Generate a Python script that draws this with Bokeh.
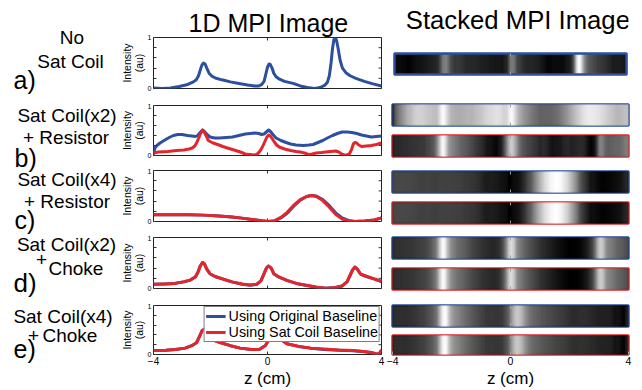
import numpy as np
from bokeh.plotting import figure
from bokeh.models import (Range1d, LinearAxis, FixedTicker, ColumnDataSource,
                          LinearColorMapper, Legend, LegendItem)
from bokeh.layouts import column, row
from bokeh.palettes import Greys256
from bokeh.transform import transform
from bokeh.core.properties import value
from bokeh.embed import file_html
from bokeh.resources import INLINE

# ---------------- data ----------------
Z_A = [-4.0, -3.7, -3.4, -3.1, -2.8, -2.6, -2.5, -2.42, -2.35, -2.3,
       -2.25, -2.19, -2.13, -2.05, -1.95, -1.8, -1.6, -1.3, -1.0, -0.7,
       -0.45, -0.3, -0.2, -0.12, -0.05, 0.0, 0.05, 0.1, 0.16, 0.22,
       0.3, 0.4, 0.6, 0.9, 1.15, 1.4, 1.65, 1.85, 2.0, 2.1,
       2.17, 2.23, 2.28, 2.33, 2.37, 2.42, 2.48, 2.55, 2.63, 2.75,
       2.9, 3.1, 3.4, 3.7, 4.0]
A_BLUE = [0.01, 0.0, 0.01, 0.04, 0.08, 0.13, 0.17, 0.25, 0.38, 0.46,
          0.50, 0.48, 0.40, 0.30, 0.24, 0.20, 0.17, 0.13, 0.10, 0.07,
          0.05, 0.05, 0.08, 0.14, 0.30, 0.42, 0.48, 0.47, 0.40, 0.30,
          0.23, 0.19, 0.14, 0.10, 0.05, 0.02, 0.0, 0.02, 0.06, 0.12,
          0.25, 0.50, 0.78, 0.96, 1.0, 0.95, 0.78, 0.55, 0.40, 0.31,
          0.25, 0.20, 0.14, 0.09, 0.05]

Z_B_BLUE = [-4.0, -3.95, -3.88, -3.77, -3.6, -3.45, -3.3, -3.15, -3.0, -2.81,
            -2.65, -2.53, -2.45, -2.38, -2.28, -2.2, -2.1, -2.02, -1.85, -1.68,
            -1.45, -1.23, -1.0, -0.78, -0.6, -0.44, -0.3, -0.21, -0.12, -0.04,
            0.04, 0.12, 0.19, 0.3, 0.47, 0.65, 0.81, 1.0, 1.26, 1.45,
            1.6, 1.77, 1.94, 2.1, 2.28, 2.45, 2.62, 2.8, 2.96, 3.13,
            3.3, 3.47, 3.64, 3.82, 4.0]
B_BLUE = [0.02, 0.15, 0.20, 0.25, 0.31, 0.36, 0.40, 0.42, 0.42, 0.40,
          0.39, 0.38, 0.40, 0.45, 0.51, 0.47, 0.41, 0.37, 0.35, 0.35,
          0.36, 0.37, 0.40, 0.43, 0.44, 0.45, 0.44, 0.42, 0.43, 0.47,
          0.51, 0.47, 0.42, 0.35, 0.30, 0.26, 0.23, 0.21, 0.20, 0.21,
          0.22, 0.26, 0.30, 0.35, 0.40, 0.44, 0.47, 0.47, 0.46, 0.44,
          0.41, 0.39, 0.37, 0.38, 0.39]

Z_B_RED = [-4.0, -3.83, -3.5, -3.2, -2.93, -2.75, -2.64, -2.55, -2.47, -2.4,
           -2.33, -2.28, -2.22, -2.15, -2.08, -1.98, -1.91, -1.75, -1.57, -1.35,
           -1.12, -0.95, -0.78, -0.62, -0.49, -0.38, -0.32, -0.25, -0.18, -0.1,
           -0.03, 0.04, 0.1, 0.16, 0.24, 0.32, 0.41, 0.6, 0.81, 1.0,
           1.15, 1.3, 1.43, 1.57, 1.71, 1.9, 2.05, 2.22, 2.39, 2.5,
           2.6, 2.73, 2.87, 2.95, 3.01, 3.07, 3.13, 3.2, 3.3, 3.47,
           3.64, 3.82, 4.0]
B_RED = [0.05, 0.07, 0.08, 0.10, 0.11, 0.13, 0.15, 0.19, 0.27, 0.37,
         0.46, 0.51, 0.47, 0.39, 0.30, 0.27, 0.25, 0.22, 0.18, 0.14,
         0.10, 0.07, 0.03, 0.02, 0.01, 0.02, 0.05, 0.10, 0.17, 0.27,
         0.36, 0.41, 0.39, 0.34, 0.27, 0.21, 0.17, 0.13, 0.10, 0.08,
         0.07, 0.05, 0.02, 0.03, 0.05, 0.06, 0.07, 0.08, 0.09, 0.07,
         0.03, 0.0, 0.03, 0.12, 0.23, 0.26, 0.25, 0.21, 0.18, 0.19,
         0.20, 0.22, 0.25]

Z_C = [-4.0, -3.4, -2.8, -2.25, -1.7, -1.25, -0.9, -0.55, -0.2, 0.02,
       0.24, 0.47, 0.69, 0.92, 1.15, 1.37, 1.54, 1.71, 1.94, 2.17,
       2.39, 2.62, 2.84, 3.07, 3.41, 3.75, 4.0]
C_BLUE = [0.13, 0.13, 0.13, 0.125, 0.11, 0.09, 0.066, 0.04, 0.013, 0.0,
          0.01, 0.07, 0.16, 0.30, 0.42, 0.49, 0.51, 0.50, 0.43, 0.31,
          0.17, 0.07, 0.02, 0.0, 0.01, 0.03, 0.07]
C_RED = [0.13, 0.13, 0.13, 0.125, 0.11, 0.09, 0.066, 0.04, 0.013, 0.0,
         0.013, 0.08, 0.18, 0.32, 0.43, 0.49, 0.51, 0.49, 0.41, 0.28,
         0.14, 0.05, 0.01, 0.0, 0.01, 0.03, 0.07]

Z_D = [-4.0, -3.6, -3.26, -2.93, -2.7, -2.53, -2.44, -2.36, -2.28, -2.21,
       -2.13, -2.02, -1.85, -1.57, -1.23, -0.89, -0.61, -0.38, -0.23, -0.12,
       -0.03, 0.04, 0.13, 0.22, 0.36, 0.69, 1.03, 1.37, 1.71, 2.05,
       2.39, 2.62, 2.79, 2.9, 2.99, 3.07, 3.15, 3.27, 3.47, 3.75, 4.0]
D_BLUE = [0.083, 0.09, 0.10, 0.13, 0.165, 0.225, 0.32, 0.44, 0.51, 0.48,
          0.38, 0.29, 0.235, 0.185, 0.125, 0.085, 0.065, 0.08, 0.15, 0.29,
          0.41, 0.44, 0.40, 0.29, 0.235, 0.155, 0.095, 0.06, 0.025, 0.004,
          0.02, 0.05, 0.13, 0.26, 0.37, 0.42, 0.38, 0.28, 0.235, 0.185, 0.135]
D_RED = [0.083, 0.09, 0.10, 0.135, 0.17, 0.23, 0.32, 0.44, 0.51, 0.48,
         0.38, 0.29, 0.24, 0.19, 0.13, 0.09, 0.07, 0.083, 0.15, 0.29,
         0.41, 0.44, 0.40, 0.29, 0.24, 0.16, 0.10, 0.064, 0.03, 0.006,
         0.02, 0.05, 0.13, 0.26, 0.37, 0.42, 0.38, 0.28, 0.24, 0.19, 0.14]

Z_E = [-4.0, -3.57, -3.23, -2.89, -2.66, -2.49, -2.38, -2.29, -2.21, -2.13,
       -2.04, -1.93, -1.64, -1.30, -0.96, -0.57, -0.28, -0.08, 0.06, 0.17,
       0.26, 0.37, 0.51, 0.68, 1.08, 1.53, 1.98, 2.5, 3.0, 3.4,
       3.65, 3.85, 3.93, 4.0]
E_BLUE = [0.08, 0.085, 0.10, 0.13, 0.18, 0.24, 0.375, 0.49, 0.52, 0.47,
          0.36, 0.30, 0.24, 0.18, 0.13, 0.10, 0.105, 0.18, 0.31, 0.39,
          0.41, 0.375, 0.29, 0.22, 0.165, 0.125, 0.10, 0.085, 0.075, 0.055,
          0.035, 0.005, 0.03, 0.09]
E_RED = [0.08, 0.085, 0.10, 0.13, 0.18, 0.24, 0.375, 0.49, 0.52, 0.47,
         0.36, 0.30, 0.24, 0.18, 0.13, 0.10, 0.105, 0.18, 0.31, 0.39,
         0.41, 0.375, 0.29, 0.22, 0.17, 0.13, 0.11, 0.09, 0.08, 0.06,
         0.04, 0.005, 0.03, 0.09]

X_TICKS = [-4, 0, 4]
Y_TICKS = [0, 1]
Y_MINOR = [0.2, 0.4, 0.6, 0.8]
STRIP_TICKS = [0]
TITLE_LEFT = "1D MPI Image"
TITLE_RIGHT = "Stacked MPI Image"
X_LABEL = "z (cm)"
Y_LABEL = "Intensity\n(au)"
LEGEND_LABELS = ["Using Original Baseline", "Using Sat Coil Baseline"]
ROW_LABELS = [
    # text, x (px), baseline y (px), size (px), align
    ("No", 71.5, 43, 19, "center"),
    ("Sat Coil", 70, 67, 19, "center"),
    ("a)", 13, 88, 25, "left"),
    ("Sat Coil(x2)", 66.5, 121, 19, "center"),
    ("+ Resistor", 65.5, 143, 19, "center"),
    ("b)", 14, 166, 25, "left"),
    ("Sat Coil(x4)", 66.5, 185.5, 19, "center"),
    ("+ Resistor", 66.5, 207.5, 19, "center"),
    ("c)", 14, 228, 25, "left"),
    ("Sat Coil(x2)", 66, 250, 19, "center"),
    ("+", 41, 265.5, 19, "center"),
    ("Choke", 48, 274, 19, "left"),
    ("d)", 13, 291, 26, "left"),
    ("Sat Coil(x4)", 62.5, 322, 19, "center"),
    ("+", 33, 341, 19, "center"),
    ("Choke", 42, 341.5, 19, "left"),
    ("e)", 13, 357, 25, "left"),
]

# ---------------- style ----------------
BLUE = "#2c4f9f"
RED = "#e3262b"
FONT = "Liberation Sans"
AXC = "#333333"
PAGE_H = 390
LEFT_W = 117
MID_W = 269
RIGHT_W = 256
PX_PER_UNIT = 236 / 8.0
BASELINE_FIX = 0.34   # text glyphs land this many ems below the asked baseline


def bare(p):
    p.grid.visible = False
    p.background_fill_color = "white"
    p.border_fill_color = "white"


def put_text(p, s, x, y, size, align):
    p.text(x=[x], y=[y], text=[s], text_font=value(FONT), text_font_size=value("%gpx" % size),
           text_align=align, text_baseline="alphabetic", text_color="black")


def style_axis(ax, label_size, color=AXC):
    ax.axis_line_color = None
    ax.major_tick_in = 3
    ax.major_tick_out = 0
    ax.minor_tick_in = 3
    ax.minor_tick_out = 0
    ax.major_tick_line_color = color
    ax.minor_tick_line_color = color
    ax.major_label_text_font = FONT
    ax.major_label_text_color = "black"
    ax.major_label_text_font_size = label_size
    ax.major_label_standoff = 2
    ax.axis_label_text_color = "black"


def style_xlabel(ax):
    ax.axis_label_text_font = FONT
    ax.axis_label_text_font_size = "17px"
    ax.axis_label_text_font_style = "normal"
    ax.axis_label_text_line_height = 1.0
    ax.axis_label_standoff = 1


def inner_ticks(p, frame_h, xs, ys, color, sides):
    dy = 3.0 / frame_h
    dx = 3.0 / PX_PER_UNIT
    if "bottom" in sides:
        p.segment(x0=xs, y0=[0] * len(xs), x1=xs, y1=[dy] * len(xs), line_color=color, line_width=1)
    if "top" in sides:
        p.segment(x0=xs, y0=[1] * len(xs), x1=xs, y1=[1 - dy] * len(xs), line_color=color, line_width=1)
    if "right" in sides:
        p.segment(x0=[4] * len(ys), y0=ys, x1=[4 - dx] * len(ys), y1=ys, line_color=color, line_width=1)


def line_fig(h, top, bottom, xlabels):
    p = figure(width=MID_W, height=h, x_range=Range1d(-4, 4), y_range=Range1d(0, 1),
               output_backend="svg", toolbar_location=None,
               min_border_left=28, min_border_right=5,
               min_border_top=top, min_border_bottom=bottom,
               x_axis_location=None, y_axis_location=None)
    bare(p)
    p.outline_line_color = "#222222"
    p.outline_line_width = 1
    ly = LinearAxis(ticker=FixedTicker(ticks=Y_TICKS, minor_ticks=Y_MINOR), axis_label=Y_LABEL)
    style_axis(ly, "7px")
    ly.axis_label_text_font = FONT
    ly.axis_label_text_font_size = "10.5px"
    ly.axis_label_text_font_style = "normal"
    ly.axis_label_text_line_height = 1.0
    ly.axis_label_standoff = 0
    p.add_layout(ly, "left")
    fh = h - top - bottom
    sides = ["top", "right"]
    if xlabels:
        bx = LinearAxis(ticker=FixedTicker(ticks=X_TICKS, minor_ticks=[]), axis_label=X_LABEL)
        style_axis(bx, "10px")
        style_xlabel(bx)
        p.add_layout(bx, "below")
    else:
        sides.append("bottom")
    inner_ticks(p, fh, X_TICKS, Y_TICKS + Y_MINOR, AXC, sides)
    return p


def shade(p, z, vals):
    # shade each interval between read points with a linear blend of its end values
    lefts, rights, vs = [], [], []
    for i in range(len(z) - 1):
        n = max(1, int(round((z[i + 1] - z[i]) * PX_PER_UNIT)))
        for k in range(n):
            t0, t1 = k / n, (k + 1) / n
            tm = (t0 + t1) / 2.0
            lefts.append(z[i] + (z[i + 1] - z[i]) * t0)
            rights.append(z[i] + (z[i + 1] - z[i]) * t1)
            vs.append(vals[i] + (vals[i + 1] - vals[i]) * tm)
    src = ColumnDataSource(dict(left=lefts, right=rights, v=vs))
    mapper = LinearColorMapper(palette=Greys256, low=min(vals), high=max(vals))
    p.quad(left="left", right="right", bottom=0, top=1, source=src,
           fill_color=transform("v", mapper), line_color=transform("v", mapper),
           line_width=0.6)


def strip_fig(h, top, bottom, color, z, vals, xlabels=False):
    p = figure(width=RIGHT_W, height=h, x_range=Range1d(-4, 4), y_range=Range1d(0, 1),
               output_backend="svg", toolbar_location=None,
               min_border_left=6, min_border_right=14,
               min_border_top=top, min_border_bottom=bottom,
               x_axis_location=None, y_axis_location=None)
    bare(p)
    shade(p, z, vals)
    p.outline_line_color = color
    p.outline_line_width = 2.5
    fh = h - top - bottom
    inner_ticks(p, fh, STRIP_TICKS, [], "#a0a0a0", ["top"] if xlabels else ["top", "bottom"])
    if xlabels:
        bx = LinearAxis(ticker=FixedTicker(ticks=X_TICKS, minor_ticks=[]), axis_label=X_LABEL)
        style_axis(bx, "10.5px", color="#a0a0a0")
        style_xlabel(bx)
        p.add_layout(bx, "below")
    return p


def lines(p, series):
    return [p.line(z, v, line_color=c, line_width=3, line_join="round") for z, v, c in series]


# ---------------- left column: row labels ----------------
pl = figure(width=LEFT_W, height=PAGE_H, x_range=Range1d(0, LEFT_W), y_range=Range1d(PAGE_H, 0),
            output_backend="svg", toolbar_location=None,
            min_border_left=0, min_border_right=0, min_border_top=0, min_border_bottom=0,
            x_axis_location=None, y_axis_location=None)
bare(pl)
pl.outline_line_color = None
for s, x, y, size, align in ROW_LABELS:
    put_text(pl, s, x, y - BASELINE_FIX * size, size, align)

# ---------------- middle column: 1D profiles ----------------
pa = line_fig(103, 37, 15, False)
pa.title.text = TITLE_LEFT
pa.title.text_font = FONT
pa.title.text_font_size = "25px"
pa.title.text_font_style = "normal"
pa.title.text_color = "black"
pa.title.align = "left"
pa.title.offset = 35
pa.title.standoff = 2
lines(pa, [(Z_A, A_BLUE, BLUE)])

pb = line_fig(65, 2, 13, False)
lines(pb, [(Z_B_BLUE, B_BLUE, BLUE), (Z_B_RED, B_RED, RED)])

pc = line_fig(67, 2, 14, False)
lines(pc, [(Z_C, C_BLUE, BLUE), (Z_C, C_RED, RED)])

pd = line_fig(68, 2, 15, False)
lines(pd, [(Z_D, D_BLUE, BLUE), (Z_D, D_RED, RED)])

pe = line_fig(87, 2, 34, True)
re_b, re_r = lines(pe, [(Z_E, E_BLUE, BLUE), (Z_E, E_RED, RED)])
legend = Legend(items=[LegendItem(label=LEGEND_LABELS[0], renderers=[re_b]),
                       LegendItem(label=LEGEND_LABELS[1], renderers=[re_r])],
                location="top_right")
legend.label_text_font = FONT
legend.label_text_font_size = "14.3px"
legend.label_text_color = "black"
legend.glyph_width = 20
legend.glyph_height = 10
legend.label_height = 10
legend.label_standoff = 3
legend.spacing = -10
legend.padding = 1
legend.margin = 1
legend.border_line_color = "black"
legend.border_line_width = 0.8
legend.background_fill_alpha = 1
pe.add_layout(legend)

mid_col = column(pa, pb, pc, pd, pe)

# ---------------- right column: stacked images ----------------
# first strip: its frame also holds the column title above the image
PAD = 2.0
STRIP_H = 21.0
ra = figure(width=RIGHT_W, height=90,
            x_range=Range1d(-4 - PAD / PX_PER_UNIT, 4 + PAD / PX_PER_UNIT),
            y_range=Range1d(-PAD / STRIP_H, 74 / STRIP_H),
            output_backend="svg", toolbar_location=None,
            min_border_left=4, min_border_right=12, min_border_top=0, min_border_bottom=14,
            x_axis_location=None, y_axis_location=None)
bare(ra)
ra.outline_line_color = None
shade(ra, Z_A, A_BLUE)
ra.quad(left=[-4], right=[4], bottom=[0], top=[1], fill_color=None,
        line_color=BLUE, line_width=2.5)
inner_ticks(ra, STRIP_H, STRIP_TICKS, [], "#a0a0a0", ["top", "bottom"])
TSIZE = 25.7
put_text(ra, TITLE_RIGHT, -4 + 11.5 / PX_PER_UNIT,
         (74 - (28.5 - BASELINE_FIX * TSIZE)) / STRIP_H, TSIZE, "left")

rbb = strip_fig(40, 14, 5, BLUE, Z_B_BLUE, B_BLUE)
rbr = strip_fig(33, 5, 7, RED, Z_B_RED, B_RED)
rcb = strip_fig(34, 8, 5, BLUE, Z_C, C_BLUE)
rcr = strip_fig(33, 5, 7, RED, Z_C, C_RED)
rdb = strip_fig(32, 7, 4, BLUE, Z_D, D_BLUE)
rdr = strip_fig(34, 6, 7, RED, Z_D, D_RED)
reb = strip_fig(34, 9, 4, BLUE, Z_E, E_BLUE)
rer = strip_fig(60, 5, 34, RED, Z_E, E_RED, xlabels=True)

right_col = column(ra, rbb, rbr, rcb, rcr, rdb, rdr, reb, rer)

layout = row(pl, mid_col, right_col)

open("out.html", "w").write(file_html(layout, INLINE))
